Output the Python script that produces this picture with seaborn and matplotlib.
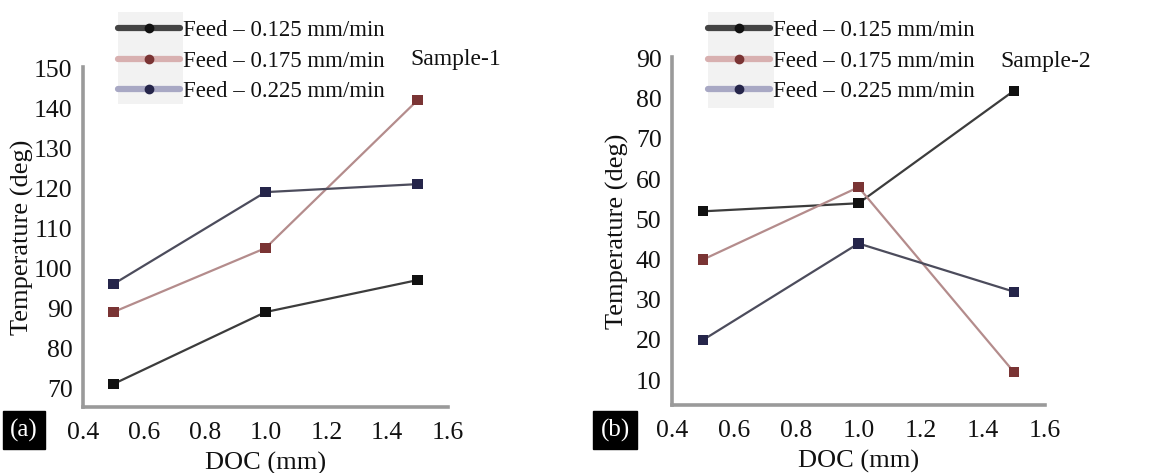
import numpy as np
import pandas as pd
import matplotlib
matplotlib.use("Agg")
import matplotlib.pyplot as plt
from matplotlib.lines import Line2D
from matplotlib.patches import Rectangle
from matplotlib.ticker import MultipleLocator
import seaborn as sns

# ---------------- data ----------------
doc = [0.5, 1.0, 1.5]
series_labels = ["Feed \u2013 0.125 mm/min", "Feed \u2013 0.175 mm/min", "Feed \u2013 0.225 mm/min"]

s1_feed125 = [71, 89, 97]
s1_feed175 = [89, 105, 142]
s1_feed225 = [96, 119, 121]

s2_feed125 = [52, 54, 82]
s2_feed175 = [40, 58, 12]
s2_feed225 = [20, 44, 32]

x_ticks = [0.4, 0.6, 0.8, 1.0, 1.2, 1.4, 1.6]
y_ticks_1 = [70, 80, 90, 100, 110, 120, 130, 140, 150]
y_ticks_2 = [10, 20, 30, 40, 50, 60, 70, 80, 90]
sample_titles = ["Sample-1", "Sample-2"]
panel_tags = ["(a)", "(b)"]

# ---------------- style ----------------
sns.set_theme(style="white")
plt.rcParams['font.family'] = ['Liberation Serif', 'DejaVu Serif']

line_colors = ["#3c3c3c", "#b48c8c", "#4c4c5c"]
marker_colors = ["#111111", "#7a3434", "#25254a"]
legend_line_colors = ["#444444", "#d8b0b0", "#a8a8c4"]


def make_df(vals):
    rows = []
    for lab, v in zip(series_labels, vals):
        for x, y in zip(doc, v):
            rows.append({"DOC": x, "Temp": y, "Feed": lab})
    return pd.DataFrame(rows)


fig = plt.figure(figsize=(11.5, 4.73), dpi=100)
W, H = 1150, 473

axes_px = [(83, 67, 448, 407), (672, 57, 1045, 405)]
ylims = [(65.25, 150.3), (3.8, 90.4)]
yticks_all = [y_ticks_1, y_ticks_2]
data_all = [[s1_feed125, s1_feed175, s1_feed225], [s2_feed125, s2_feed175, s2_feed225]]
legend_anchor_px = [(118, 20), (708, 20)]
legend_box_px = [(118, 12, 183, 104), (708, 12, 774, 108)]
sample_pos_px = [(456, 59), (1046, 61)]
tag_pos_px = [(24, 430), (615, 430)]
ylabel_x_px = [22, 617]

for i in range(2):
    l, t, r, b = axes_px[i]
    ax = fig.add_axes([l / W, 1 - b / H, (r - l) / W, (b - t) / H])
    ax.set_facecolor("none")
    df = make_df(data_all[i])
    sns.lineplot(data=df, x="DOC", y="Temp", hue="Feed", palette=line_colors,
                 linewidth=1.6, ax=ax, legend=False)
    sns.scatterplot(data=df, x="DOC", y="Temp", hue="Feed", palette=marker_colors,
                    marker="s", s=55, edgecolor="none", ax=ax, legend=False, zorder=5)
    ax.set_xlim(0.4, 1.6)
    ax.set_ylim(*ylims[i])
    ax.set_xticks(x_ticks)
    ax.set_xticklabels([f"{v:.1f}" for v in x_ticks])
    ax.set_yticks(yticks_all[i])
    ax.xaxis.set_minor_locator(MultipleLocator(0.1))
    ax.yaxis.set_minor_locator(MultipleLocator(2.5))
    for side in ["top", "right"]:
        ax.spines[side].set_visible(False)
    for side in ["left", "bottom"]:
        ax.spines[side].set_color("#9a9a9a")
        ax.spines[side].set_linewidth(2.6)
    ax.tick_params(axis="both", which="major", direction="inout", length=5, width=1.5,
                   color="#555555", labelsize=18.5, labelcolor="#111111")
    ax.tick_params(axis="both", which="minor", direction="inout", length=3, width=1.0,
                   color="#666666")
    ax.tick_params(axis="x", which="major", pad=8)
    ax.tick_params(axis="y", which="major", pad=5)
    ax.set_xlabel("DOC (mm)", fontsize=19, color="#111111", labelpad=6)
    ax.set_ylabel("")
    fig.text(ylabel_x_px[i] / W, 1 - ((t + b) / 2) / H, "Temperature (deg)", rotation=90,
             ha="center", va="center", fontsize=19, color="#111111")

    bl, bt, br, bb = legend_box_px[i]
    fig.patches.append(Rectangle((bl / W, 1 - bb / H), (br - bl) / W, (bb - bt) / H,
                                 transform=fig.transFigure, facecolor="#f2f2f2",
                                 edgecolor="none", zorder=-1))

    handles = [Line2D([0], [0], color=legend_line_colors[k], linewidth=4.5, marker="o",
                      markersize=6, markerfacecolor=marker_colors[k],
                      markeredgecolor=marker_colors[k]) for k in range(3)]
    ax_, ay_ = legend_anchor_px[i]
    leg = ax.legend(handles, series_labels, loc="upper left",
                    bbox_to_anchor=(ax_ / W, 1 - ay_ / H), bbox_transform=fig.transFigure,
                    frameon=False, fontsize=16.5, handlelength=2.7, handletextpad=0.15,
                    labelspacing=0.42, borderpad=0.0, borderaxespad=0.0)
    for txt in leg.get_texts():
        txt.set_color("#111111")

    sx, sy = sample_pos_px[i]
    fig.text(sx / W, 1 - sy / H, sample_titles[i], ha="center", va="center",
             fontsize=17, color="#111111")
    tx, ty = tag_pos_px[i]
    fig.text(tx / W, 1 - ty / H, panel_tags[i], ha="center", va="center", fontsize=18,
             color="white", bbox=dict(boxstyle="square,pad=0.3", facecolor="black",
                                      edgecolor="black"))

fig.savefig("out.png", dpi=100, facecolor="white")
